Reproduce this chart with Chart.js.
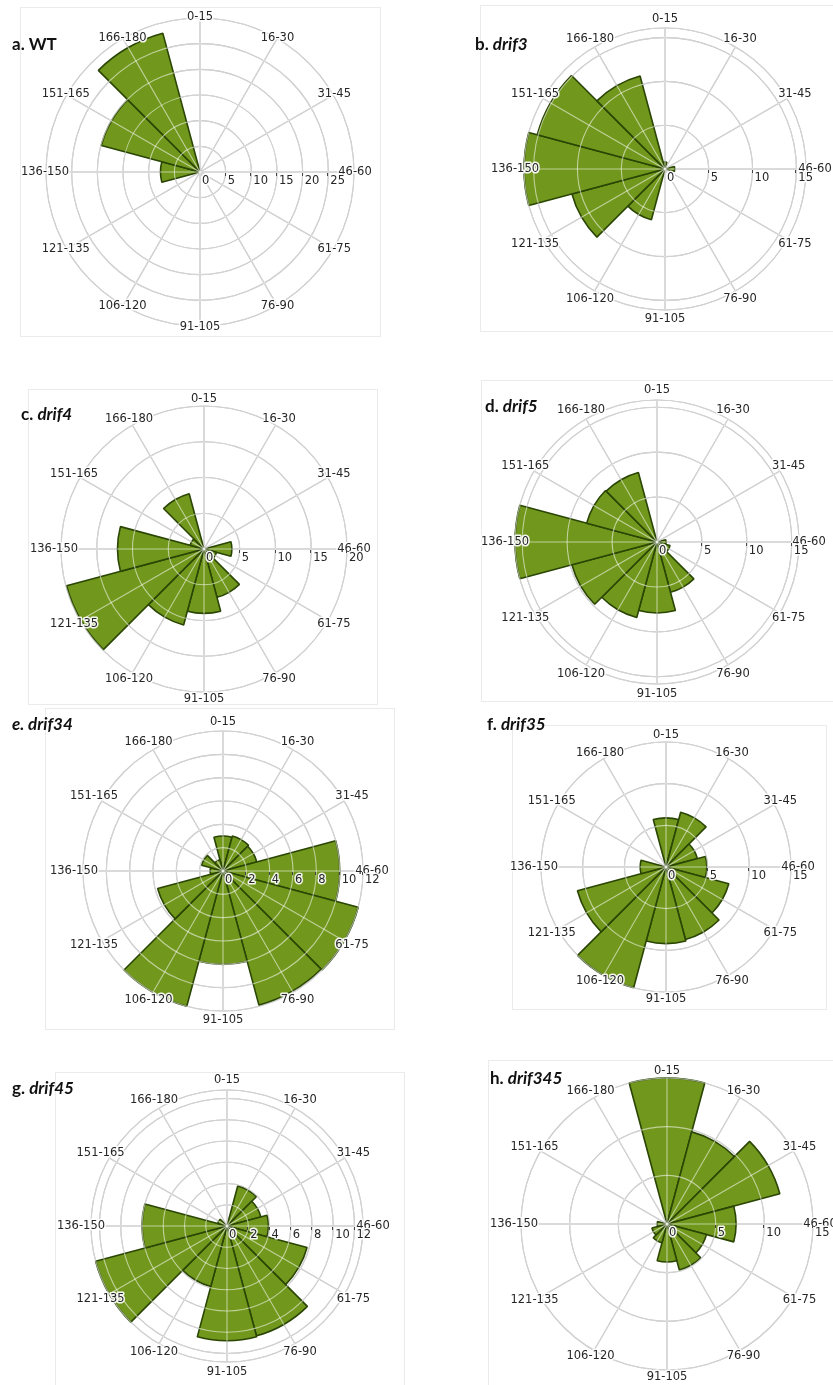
<!DOCTYPE html>
<html>
<head>
<meta charset="utf-8">
<script src="https://cdn.jsdelivr.net/npm/chart.js@4.4.1/dist/chart.umd.min.js"></script>
<style>
  html, body { margin: 0; padding: 0; background: #ffffff; }
  body { position: relative; width: 833px; height: 1385px; overflow: hidden; }
  .frame { position: absolute; border: 1px solid #ebebeb; box-sizing: border-box; }
  canvas { position: absolute; }
  .title { position: absolute; font-family: Lato, "Open Sans", sans-serif; font-weight: 700;
           font-size: 17px; line-height: 1; color: #111111; white-space: nowrap; z-index: 2; }
  .title i { font-style: italic; }
</style>
</head>
<body>

<div class="frame" style="left:20px;top:7px;width:361px;height:330px"></div>
<div class="frame" style="left:480px;top:5px;width:360px;height:327px"></div>
<div class="frame" style="left:28px;top:389px;width:350px;height:316px"></div>
<div class="frame" style="left:481px;top:380px;width:360px;height:322px"></div>
<div class="frame" style="left:45px;top:708px;width:350px;height:322px"></div>
<div class="frame" style="left:512px;top:725px;width:315px;height:285px"></div>
<div class="frame" style="left:55px;top:1072px;width:350px;height:320px"></div>
<div class="frame" style="left:488px;top:1060px;width:350px;height:330px"></div>

<div class="title" style="left:12px;top:35px">a. WT</div>
<div class="title" style="left:475px;top:35px">b. <i>drif3</i></div>
<div class="title" style="left:21px;top:405px">c. <i>drif4</i></div>
<div class="title" style="left:485px;top:397px">d. <i>drif5</i></div>
<div class="title" style="left:12px;top:715px"><i>e. drif34</i></div>
<div class="title" style="left:487px;top:715px">f. <i>drif35</i></div>
<div class="title" style="left:12px;top:1079px">g. <i>drif45</i></div>
<div class="title" style="left:490px;top:1069px">h. <i>drif345</i></div>

<canvas id="roseA"></canvas>
<canvas id="roseB"></canvas>
<canvas id="roseC"></canvas>
<canvas id="roseD"></canvas>
<canvas id="roseE"></canvas>
<canvas id="roseF"></canvas>
<canvas id="roseG"></canvas>
<canvas id="roseH"></canvas>

<script>
// Angle classes (degrees), one sector per class
const categories = ['0-15', '16-30', '31-45', '46-60', '61-75', '76-90',
                    '91-105', '106-120', '121-135', '136-150', '151-165', '166-180'];

// Frequency per angle class for each genotype
const wtValues      = [0, 0, 0, 0, 0, 0, 0, 0, 0, 7.7, 19.9, 28.0];
const drif3Values   = [0.8, 0, 0, 1.1, 0, 0, 0, 6.0, 11.0, 16.1, 15.1, 11.0];
const drif4Values   = [0, 0, 0, 3.9, 1.8, 7.0, 9.0, 11.0, 19.9, 12.1, 2.0, 8.0];
const drif5Values   = [0, 0, 0, 1.0, 1.5, 5.8, 7.9, 8.7, 9.8, 15.8, 8.1, 8.0];
const drif34Values  = [3.0, 3.1, 3.0, 10.0, 12.0, 11.9, 8.0, 12.0, 5.8, 1.1, 1.9, 1.0];
const drif35Values  = [5.9, 6.8, 3.9, 4.9, 7.8, 9.0, 9.2, 15.0, 11.0, 3.1, 0, 0];
const drif45Values  = [0, 3.9, 3.3, 3.9, 7.8, 10.7, 10.8, 5.9, 12.8, 8.0, 0.9, 0];
const drif345Values = [15.0, 9.8, 12.0, 7.1, 4.2, 4.9, 3.9, 2.0, 1.6, 1.0, 0, 0];

// Radial tick labels and outer ring value for each panel
const wtTicks      = [0, 5, 10, 15, 20, 25];
const drif3Ticks   = [0, 5, 10, 15];
const drif4Ticks   = [0, 5, 10, 15, 20];
const drif5Ticks   = [0, 5, 10, 15];
const drif34Ticks  = [0, 2, 4, 6, 8, 10, 12];
const drif35Ticks  = [0, 5, 10, 15];
const drif45Ticks  = [0, 2, 4, 6, 8, 10, 12];
const drif345Ticks = [0, 5, 10, 15];

const wtMax = 30, drif3Max = 16.1, drif4Max = 20, drif5Max = 15.8,
      drif34Max = 12, drif35Max = 15, drif45Max = 12.8, drif345Max = 15;

// Placement of each rose on the page: canvas box, centre and radius in px
const panels = [
  { id: 'roseA', values: wtValues,      ticks: wtTicks,      max: wtMax,      box: [0, 0, 420, 350],      cx: 200, cy: 172,  R: 154, gap: 1 },
  { id: 'roseB', values: drif3Values,   ticks: drif3Ticks,   max: drif3Max,   box: [413, 0, 420, 350],    cx: 665, cy: 169,  R: 141, gap: 9 },
  { id: 'roseC', values: drif4Values,   ticks: drif4Ticks,   max: drif4Max,   box: [0, 345, 420, 365],    cx: 204, cy: 549,  R: 143, gap: 7 },
  { id: 'roseD', values: drif5Values,   ticks: drif5Ticks,   max: drif5Max,   box: [413, 345, 420, 365],  cx: 657, cy: 542,  R: 142, gap: 10 },
  { id: 'roseE', values: drif34Values,  ticks: drif34Ticks,  max: drif34Max,  box: [0, 700, 420, 345],    cx: 223, cy: 871,  R: 140, gap: 9 },
  { id: 'roseF', values: drif35Values,  ticks: drif35Ticks,  max: drif35Max,  box: [413, 700, 420, 345],  cx: 666, cy: 867,  R: 125, gap: 7 },
  { id: 'roseG', values: drif45Values,  ticks: drif45Ticks,  max: drif45Max,  box: [0, 1035, 420, 350],   cx: 227, cy: 1226, R: 136, gap: 10 },
  { id: 'roseH', values: drif345Values, ticks: drif345Ticks, max: drif345Max, box: [413, 1035, 420, 350], cx: 667, cy: 1224, R: 146, gap: 7 }
];

const FILL = '#71981c';
const EDGE = '#2a4504';
const GRID = '#9c9c9c';
const GRID_ON_FILL = 'rgba(255,255,255,0.55)';
const TEXT = '#262626';
const LABEL_FONT = '11.5px "DejaVu Sans", Verdana, sans-serif';

// Sectors are centred on their class direction, so the spokes sit half a sector
// clockwise of the scale's index angle.
function spokeAngle(scale, i, n) {
  return scale.getIndexAngle(i) + Math.PI / n - Math.PI / 2;
}

function ringList(ticks, max) {
  const rings = ticks.filter(t => t > 0);
  if (!rings.length || rings[rings.length - 1] < max) rings.push(max);
  return rings;
}

function drawGrid(chart, o, color) {
  const s = chart.scales.r;
  const ctx = chart.ctx;
  const n = chart.data.labels.length;
  const outer = s.getDistanceFromCenterForValue(s.max);
  ctx.save();
  ctx.strokeStyle = color;
  ctx.lineWidth = 1.1;
  for (const v of ringList(o.ticks, s.max)) {
    ctx.beginPath();
    ctx.arc(s.xCenter, s.yCenter, s.getDistanceFromCenterForValue(v), 0, Math.PI * 2);
    ctx.stroke();
  }
  for (let i = 0; i < n; i++) {
    const a = spokeAngle(s, i, n);
    ctx.beginPath();
    ctx.moveTo(s.xCenter, s.yCenter);
    ctx.lineTo(s.xCenter + Math.cos(a) * outer, s.yCenter + Math.sin(a) * outer);
    ctx.stroke();
  }
  ctx.restore();
}

function drawText(ctx, text, x, y) {
  ctx.strokeText(text, x, y);
  ctx.fillText(text, x, y);
}

function drawLabels(chart, o) {
  const s = chart.scales.r;
  const ctx = chart.ctx;
  const n = chart.data.labels.length;
  const outer = s.getDistanceFromCenterForValue(s.max) + o.gap;
  ctx.save();
  ctx.font = LABEL_FONT;
  ctx.lineJoin = 'round';
  ctx.lineWidth = 3;
  ctx.strokeStyle = 'rgba(255,255,255,0.92)';
  ctx.fillStyle = TEXT;
  ctx.textAlign = 'center';
  ctx.textBaseline = 'middle';
  chart.data.labels.forEach((lab, i) => {
    const a = spokeAngle(s, i, n);
    drawText(ctx, lab, s.xCenter + Math.cos(a) * outer, s.yCenter + Math.sin(a) * outer);
  });

  // radial value labels along the 46-60 spoke
  ctx.textAlign = 'left';
  for (const t of o.ticks) {
    const d = s.getDistanceFromCenterForValue(t);
    const x = s.xCenter + d;
    if (t > 0) {
      ctx.save();
      ctx.strokeStyle = '#444444';
      ctx.lineWidth = 1;
      ctx.beginPath();
      ctx.moveTo(Math.round(x) - 0.5, s.yCenter + 1);
      ctx.lineTo(Math.round(x) - 0.5, s.yCenter + 4);
      ctx.stroke();
      ctx.restore();
    }
    drawText(ctx, String(t), x + 2, s.yCenter + 9);
  }
  ctx.restore();
}

const roseGrid = {
  id: 'roseGrid',
  beforeDatasetsDraw(chart, args, opts) { drawGrid(chart, opts, GRID); },
  afterDatasetsDraw(chart, args, opts) {
    drawGrid(chart, opts, GRID_ON_FILL);
    drawLabels(chart, opts);
  }
};

panels.forEach(p => {
  const [bx, by, bw, bh] = p.box;
  const canvas = document.getElementById(p.id);
  canvas.width = bw;
  canvas.height = bh;
  canvas.style.left = bx + 'px';
  canvas.style.top = by + 'px';
  canvas.style.width = bw + 'px';
  canvas.style.height = bh + 'px';

  const padding = {
    left: p.cx - p.R - bx,
    top: p.cy - p.R - by,
    right: bx + bw - (p.cx + p.R),
    bottom: by + bh - (p.cy + p.R)
  };

  new Chart(canvas, {
    type: 'polarArea',
    data: {
      labels: categories,
      datasets: [{
        data: p.values,
        backgroundColor: FILL,
        borderColor: EDGE,
        borderWidth: 1.6
      }]
    },
    options: {
      responsive: false,
      maintainAspectRatio: false,
      animation: false,
      devicePixelRatio: 1,
      layout: { padding },
      plugins: {
        legend: { display: false },
        tooltip: { enabled: false },
        roseGrid: { ticks: p.ticks, gap: p.gap }
      },
      scales: {
        r: {
          min: 0,
          max: p.max,
          startAngle: -15,
          ticks: { display: false },
          grid: { display: false },
          angleLines: { display: false },
          pointLabels: { display: false }
        }
      }
    },
    plugins: [roseGrid]
  });
});
</script>
</body>
</html>
